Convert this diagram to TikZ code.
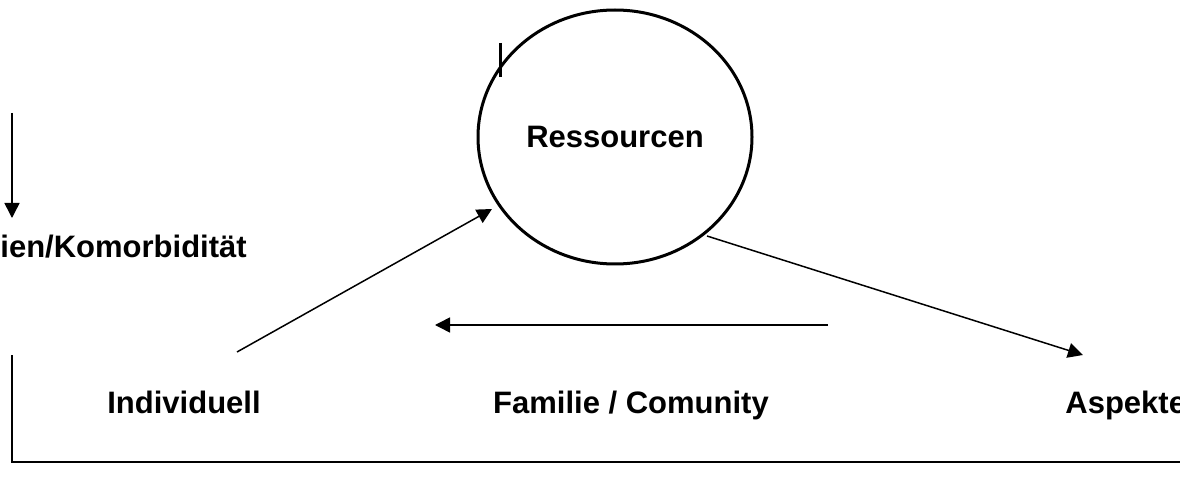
\documentclass[tikz,border=0pt]{standalone}
\usepackage{fontspec}
\setmainfont{Liberation Sans}
\usetikzlibrary{arrows.meta,shapes.geometric}
\tikzset{
	lbl/.style={font=\bfseries\fontsize{15.5}{18}\selectfont, inner sep=0pt},
	pfeil/.style={line width=0.75pt, -{Triangle[length=7.5pt,width=7.5pt]}},
}

\begin{document}
\begin{tikzpicture}[x=0.5pt, y=-0.5pt]
		%%%%% START %%%%%
		\useasboundingbox (0, 0) rectangle (1180, 492);
		
		\node[ellipse, draw, line width=1.5pt, minimum width=137pt, minimum height=127pt, lbl] (res) at (615, 137) {Ressourcen};
		\draw[line width=1.5pt] (500, 43) -- (500, 77);
		
		\node[lbl, anchor=base west] (komo) at (0, 257) {ien/Komorbidität};
		\node[lbl, anchor=base] (ind) at (184, 413) {Individuell};
		\node[lbl, anchor=base] (fam) at (631, 413) {Familie / Comunity};
		\node[lbl, anchor=base west] (asp) at (1065, 413) {Aspekte};
		
		\coordinate (komoTop) at (12, 113);
		\coordinate (komoTip) at (12, 218);
		\coordinate (indTop) at (237, 352);
		\coordinate (resIn) at (492, 209);
		\coordinate (resOut) at (707, 236);
		\coordinate (aspTip) at (1083, 355);
		\coordinate (famR) at (828, 325);
		\coordinate (famL) at (435, 325);
		\coordinate (rahmenTop) at (12, 355);
		\coordinate (rahmenEnd) at (1180, 462);
		
		\draw[pfeil] (komoTop) -- (komoTip);
		\draw[pfeil] (indTop) -- (resIn);
		\draw[pfeil] (famR) -- (famL);
		\draw[pfeil] (resOut) -- (aspTip);
		\draw[line width=0.75pt] (rahmenTop) |- (rahmenEnd);
		%%%%% END %%%%%
\end{tikzpicture}
\end{document}
